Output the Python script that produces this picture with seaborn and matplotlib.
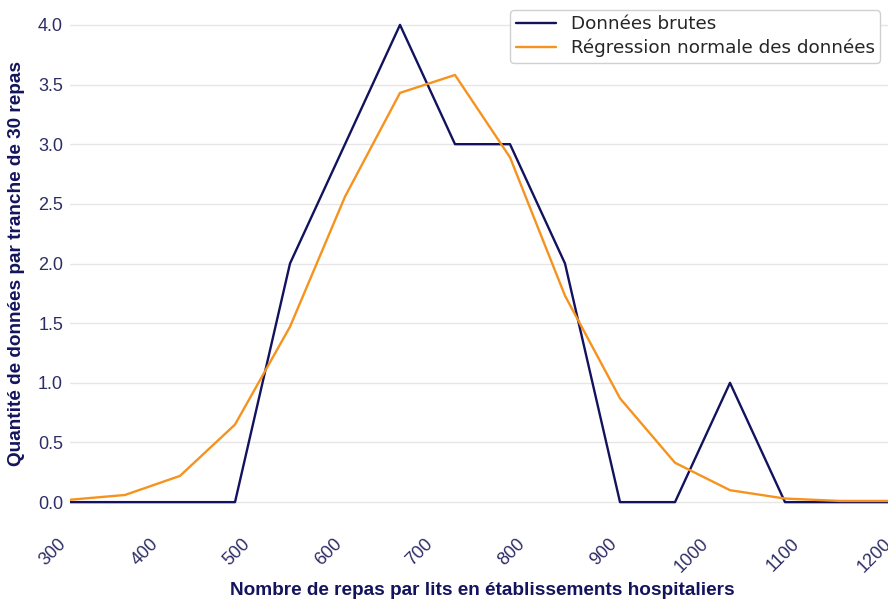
import matplotlib
matplotlib.use("Agg")
import matplotlib.pyplot as plt
import seaborn as sns
import pandas as pd

# Meal counts per bed (bin positions) and counts per bin
repas = [300, 360, 420, 480, 540, 600, 660, 720, 780, 840, 900, 960, 1020, 1080, 1140, 1200]
donnees_brutes = [0, 0, 0, 0, 2, 3, 4, 3, 3, 2, 0, 0, 1, 0, 0, 0]
regression_normale = [0.02, 0.06, 0.22, 0.65, 1.47, 2.56, 3.43, 3.58, 2.89, 1.73,
                      0.87, 0.33, 0.10, 0.03, 0.01, 0.01]
x_ticks = [300, 400, 500, 600, 700, 800, 900, 1000, 1100, 1200]
y_ticks = [0.0, 0.5, 1.0, 1.5, 2.0, 2.5, 3.0, 3.5, 4.0]

serie_brute = "Données brutes"
serie_reg = "Régression normale des données"

df = pd.DataFrame({
    "repas": repas * 2,
    "valeur": donnees_brutes + regression_normale,
    "serie": [serie_brute] * len(repas) + [serie_reg] * len(repas),
})

sns.set_style("whitegrid", {"grid.color": "#e6e6e6", "axes.edgecolor": "white"})
plt.rcParams["font.family"] = ["Liberation Sans", "DejaVu Sans"]

navy = "#12125e"
orange = "#f5931e"
label_col = "#14145e"
tick_col = "#2d2d66"

fig = plt.figure(figsize=(8.88, 6.02), dpi=100)
ax = fig.add_axes([70 / 888, 76 / 602, 825 / 888, 525 / 602])

sns.lineplot(data=df, x="repas", y="valeur", hue="serie",
             palette={serie_brute: navy, serie_reg: orange},
             linewidth=1.7, ax=ax, legend=False, sort=False)

ax.set_xlim(300, 1200)
ax.set_ylim(-0.2, 4.2)
ax.set_xticks(x_ticks)
ax.set_xticklabels([str(v) for v in x_ticks], rotation=45, ha="right",
                   fontsize=13, color=tick_col)
ax.set_yticks(y_ticks)
ax.set_yticklabels([f"{v:.1f}" for v in y_ticks], fontsize=13, color=tick_col)
ax.tick_params(axis="x", pad=7, length=0)
ax.tick_params(axis="y", pad=5, length=0)
ax.grid(axis="x", visible=False)
ax.grid(axis="y", linewidth=1.0)
for s in ax.spines.values():
    s.set_visible(False)

ax.set_xlabel("Nombre de repas par lits en établissements hospitaliers",
              fontsize=13.7, fontweight="bold", color=label_col)
ax.set_ylabel("Quantité de données par tranche de 30 repas",
              fontsize=13.7, fontweight="bold", color=label_col)
ax.xaxis.set_label_coords(0.5, -0.106)
ax.yaxis.set_label_coords(-0.054, 0.5)

handles = [plt.Line2D([], [], color=navy, linewidth=1.7),
           plt.Line2D([], [], color=orange, linewidth=1.7)]
leg = ax.legend(handles, [serie_brute, serie_reg], loc="upper right",
                bbox_to_anchor=(0.982, 0.983), borderaxespad=0,
                prop={"family": "DejaVu Sans", "size": 13.2}, frameon=True,
                fancybox=True, framealpha=1.0, edgecolor="#d0d0d0",
                borderpad=0.3, labelspacing=0.3, handlelength=2.2,
                handletextpad=0.8)
for t in leg.get_texts():
    t.set_color("#262626")

fig.savefig("out.png", dpi=100)
